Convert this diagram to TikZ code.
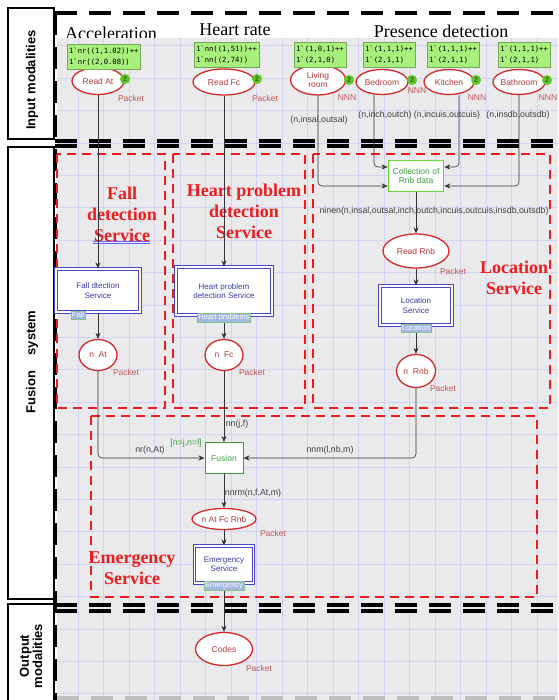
\documentclass[tikz,border=0pt]{standalone}
\usepackage{fontspec}
\setmainfont{Liberation Sans}
\newfontfamily\titlefont{Liberation Serif}
\newfontfamily\tokfont{DejaVu Sans Mono}
\usetikzlibrary{shapes.geometric,arrows.meta}
\definecolor{placered}{HTML}{D42A2A}
\definecolor{placetext}{HTML}{B83A3A}
\definecolor{tokgreen}{HTML}{A8F07C}
\definecolor{countgreen}{HTML}{5CCB1E}
\definecolor{servblue}{HTML}{4646C8}
\definecolor{servtext}{HTML}{3A3AA8}
\definecolor{tagblue}{HTML}{A4B6E6}
\definecolor{taggreen}{HTML}{86C486}
\definecolor{transgreen}{HTML}{3E9E3E}
\definecolor{collgreen}{HTML}{66DD33}
\definecolor{svcred}{HTML}{EE1C1C}
\definecolor{gridbg}{HTML}{EAEAEC}
\definecolor{gridline}{HTML}{D2D2F2}
\newcommand{\tickq}{\textasciigrave}
\begin{document}
\begin{tikzpicture}[x=1pt,y=-1pt,
        cpnplace/.style={ellipse,draw=placered,line width=1.3pt,fill=white,text=placetext,inner sep=0pt,align=center,font=\fontsize{8.5}{9.5}\selectfont},
        tokbox/.style={fill=tokgreen,draw=tokgreen!70!black,line width=0.3pt,inner xsep=2pt,inner ysep=3.5pt,align=left,font=\tokfont\fontsize{7.2}{10.5}\selectfont},
        tokcount/.style={circle,fill=countgreen,inner sep=0pt,minimum size=10pt,text=black!70,font=\bfseries\fontsize{7}{7}\selectfont},
        colset/.style={text=placetext!85,font=\fontsize{8.5}{9}\selectfont},
        subst/.style={draw=servblue,double=white,double distance=1.5pt,line width=1pt,fill=white,text=servtext,align=center,font=\fontsize{8}{9.5}\selectfont},
        subtag/.style={fill=tagblue,draw=taggreen,line width=0.5pt,text=white,inner sep=1pt,font=\fontsize{7.5}{7.5}\selectfont},
        cpntrans/.style={draw=transgreen,line width=1pt,fill=white,text=transgreen,align=center,font=\fontsize{8.5}{9.5}\selectfont},
        cpnarc/.style={draw=black!80,line width=0.6pt,-{Stealth[length=6pt,width=5pt]},rounded corners=4pt},
        arclab/.style={text=black!75,font=\fontsize{8.8}{9}\selectfont},
        bigtitle/.style={font=\titlefont\fontsize{18}{20}\selectfont},
        svctitle/.style={text=svcred,align=center,font=\titlefont\bfseries\fontsize{18}{21}\selectfont},
        svcbox/.style={draw=svcred,line width=1.8pt,dash pattern=on 9pt off 6pt},
        layerline/.style={draw=black,line width=3.5pt,dash pattern=on 22pt off 12pt},
        sidebox/.style={draw=black,line width=1.2pt,fill=white},
        sidelab/.style={rotate=90,align=center,font=\bfseries\fontsize{13}{13}\selectfont}]
        \useasboundingbox (0,0) rectangle (558,700);
        \node[bigtitle,anchor=base] (acc) at (111,40) {Acceleration};
        \node[bigtitle,anchor=base] (hrate) at (235,36) {Heart rate};
        \node[bigtitle,anchor=base] (pres) at (441,38) {Presence detection};
        \fill[gridbg] (57,38) rectangle (558,700);
        \foreach \x in {78,103.5,...,558}
            \draw[gridline,line width=0.4pt] (\x,38) -- (\x,700);
        \foreach \y in {45.6,78,...,700}
            \draw[gridline,line width=0.4pt] (57,\y) -- (558,\y);
        \draw[sidebox] (8,8) rectangle (54,139);
        \draw[sidebox] (8,147) rectangle (54,599);
        \draw[sidebox] (8,604) rectangle (54,703);
        \node[sidelab] (inlab) at (32,80) {Input modalities};
        \node[sidelab] (fuslab) at (32,362) {Fusion\hspace{1.2em}system};
        \node[sidelab,font=\bfseries\fontsize{13}{12}\selectfont] (outlab) at (31,656) {Output\\modalities};
        \foreach \y in {13,141,146,605,611}
            \draw[layerline] (55,\y) -- (558,\y);
        \draw[layerline] (55,13) -- (55,700);
        \draw[layerline,draw=black!25] (57,698) -- (558,698);
        \draw[svcbox] (57,154) rectangle (165,408);
        \draw[svcbox] (173,154) rectangle (305,408);
        \draw[svcbox] (313,154) rectangle (550,408);
        \draw[svcbox] (91,416) rectangle (537,597);
        \node[svctitle] (falltitle) at (122,214) {Fall\\detection\\Service};
        \draw[blue!60,line width=0.5pt] (93,241) -- (150,241) (93,243) -- (150,243);
        \node[svctitle] (hearttitle) at (244,211) {Heart problem\\detection\\Service};
        \node[svctitle] (loctitle) at (514,278) {Location\\Service};
        \node[svctitle] (emtitle) at (132,568) {Emergency\\Service};

        \node[cpnplace,minimum width=52pt,minimum height=27pt] (readat) at (98,81) {Read At};
        \node[cpnplace,minimum width=62pt,minimum height=26pt] (readfc) at (224,82) {Read Fc};
        \node[cpnplace,minimum width=55pt,minimum height=30pt] (living) at (318,80) {Living\\room};
        \node[cpnplace,minimum width=52pt,minimum height=25pt] (bedroom) at (382,82) {Bedroom};
        \node[cpnplace,minimum width=50pt,minimum height=25pt] (kitchen) at (449,82) {Kitchen};
        \node[cpnplace,minimum width=52pt,minimum height=25pt] (bathroom) at (519,82) {Bathroom};
        \node[tokbox,anchor=south west] (tokat) at (67,69) {1\tickq nr((1,1.02))++\\1\tickq nr((2,0.08))};
        \node[tokbox,anchor=south west] (tokfc) at (194,67) {1\tickq nn((1,51))++\\1\tickq nn((2,74))};
        \node[tokbox,anchor=south west] (toklr) at (294,67) {1\tickq(1,0,1)++\\1\tickq(2,1,0)};
        \node[tokbox,anchor=south west] (tokbed) at (363,67) {1\tickq(1,1,1)++\\1\tickq(2,1,1)};
        \node[tokbox,anchor=south west] (tokkit) at (427,67) {1\tickq(1,1,1)++\\1\tickq(2,1,1)};
        \node[tokbox,anchor=south west] (tokbath) at (498,67) {1\tickq(1,1,1)++\\1\tickq(2,1,1)};
        \foreach \x/\y [count=\i] in {125/79,257/79,349/80,412/80,476/80,547/80}
            \node[tokcount] (cnt\i) at (\x,\y) {2};
        \foreach \x/\y/\t [count=\i] in {131/98/Packet,265/98/Packet,347/98/NNN,417/91/NNN,477/98/NNN,548/98/NNN}
            \node[colset] (cs\i) at (\x,\y) {\t};
        \node[arclab] (lblr) at (319,120) {(n,insal,outsal)};
        \node[arclab] (lbbed) at (385,115) {(n,inch,outch)};
        \node[arclab] (lbkit) at (447,115) {(n,incuis,outcuis)};
        \node[arclab] (lbbath) at (518,115) {(n,insdb,outsdb)};

        \node[cpntrans,draw=collgreen,line width=1.6pt,minimum width=55pt,minimum height=31pt] (coll) at (416,176) {Collection of\\Rnb data};
        \node[arclab] (lbninen) at (434,211) {ninen(n,insal,outsal,inch,outch,incuis,outcuis,insdb,outsdb)};
        \node[cpnplace,minimum width=66pt,minimum height=34pt] (readrnb) at (416,251) {Read Rnb};
        \node[colset] (csrnb) at (453,271) {Packet};
        \node[subst,minimum width=72pt,minimum height=39pt] (locserv) at (416,305.5) {Location\\Service};
        \node[cpnplace,minimum width=39pt,minimum height=33pt] (nrnb) at (416,371) {n\ \ Rnb};
        \node[colset] (csnrnb) at (443,388) {Packet};

        \node[subst,minimum width=84pt,minimum height=43pt] (fallserv) at (98,290.5) {Fall dtection\\Service};
        \node[subst,minimum width=96pt,minimum height=48pt] (heartserv) at (224,291) {Heart problem\\detection Service};
        \node[cpnplace,minimum width=38pt,minimum height=31pt] (nat) at (98,355) {n\ \ At};
        \node[colset] (csnat) at (126,372) {Packet};
        \node[cpnplace,minimum width=38pt,minimum height=31pt] (nfc) at (224,355) {n\ \ Fc};
        \node[colset] (csnfc) at (252,372) {Packet};

        \node[cpntrans,minimum width=38pt,minimum height=31pt] (fusion) at (224,458) {Fusion};
        \node[arclab,text=transgreen] (guard) at (186,443) {[n=j,n=l]};
        \node[arclab] (lbnn) at (237,424) {nn(j,f)};
        \node[arclab] (lbnr) at (150,450) {nr(n,At)};
        \node[arclab] (lbnnm) at (330,450) {nnm(l,nb,m)};
        \node[arclab] (lbnnrm) at (253,493) {nnrm(n,f,At,m)};
        \node[cpnplace,minimum width=64pt,minimum height=21pt] (nall) at (224,519) {n At Fc Rnb};
        \node[colset] (csnall) at (273,533) {Packet};
        \node[subst,minimum width=59pt,minimum height=37pt] (emerg) at (224,564.5) {Emergency\\Service};
        \node[cpnplace,minimum width=57pt,minimum height=33pt] (codes) at (224,649) {Codes};
        \node[colset] (cscodes) at (259,668) {Packet};

        \draw[cpnarc] (readat) -- (fallserv);
        \draw[cpnarc] (readfc) -- (heartserv);
        \draw[cpnarc] (fallserv) -- (nat);
        \draw[cpnarc] (heartserv) -- (nfc);
        \draw[cpnarc] (living) |- ([yshift=-10pt]coll.west);
        \draw[cpnarc] ([xshift=-8pt]bedroom.south) |- ([yshift=9pt]coll.west);
        \draw[cpnarc] ([xshift=10pt]kitchen.south) |- ([yshift=9pt]coll.east);
        \draw[cpnarc] (bathroom) |- ([yshift=-10pt]coll.east);
        \draw[cpnarc] (coll) -- (readrnb);
        \draw[cpnarc] (readrnb) -- (locserv);
        \draw[cpnarc] (locserv) -- (nrnb);
        \draw[cpnarc] (nat) |- (fusion);
        \draw[cpnarc] (nfc) -- (fusion);
        \draw[cpnarc] (nrnb) |- (fusion);
        \draw[cpnarc] (fusion) -- (nall);
        \draw[cpnarc] (nall) -- (emerg);
        \draw[cpnarc] (emerg) -- (codes);

        \node[subtag] (tagfall) at (78,315) {Fall};
        \node[subtag] (tagheart) at (224,318) {Heart problems};
        \node[subtag] (tagloc) at (416,328) {Location};
        \node[subtag] (tagem) at (224,586) {Emergency};
    \end{tikzpicture}
\end{document}
